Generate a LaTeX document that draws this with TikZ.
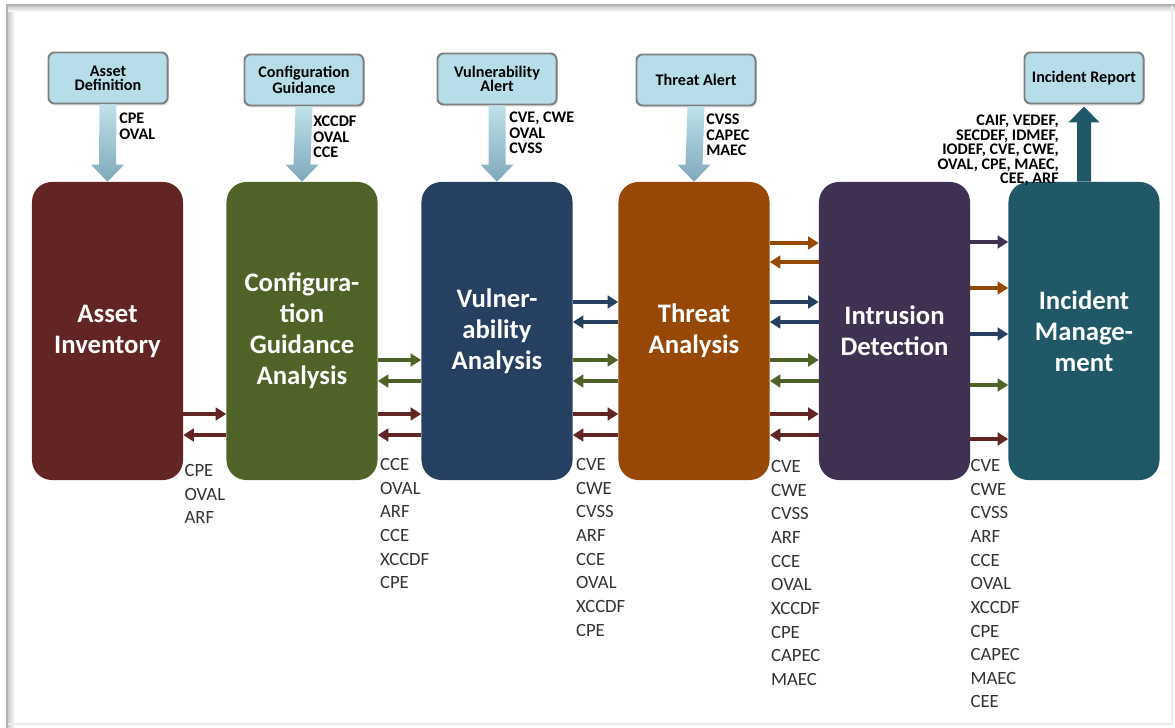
\documentclass[tikz,border=0pt]{standalone}
\usepackage{fontspec}
\setmainfont{Carlito}
\usepackage{tikz}
\usetikzlibrary{calc,arrows.meta,shadows}
\definecolor{assetred}{HTML}{632523}
\definecolor{configgreen}{HTML}{4F6228}
\definecolor{vulnblue}{HTML}{254061}
\definecolor{threatorange}{HTML}{974806}
\definecolor{intrpurple}{HTML}{3F3151}
\definecolor{incteal}{HTML}{215868}
\definecolor{boxfill}{HTML}{B7DDE8}
\definecolor{boxline}{HTML}{7F7F7F}
\definecolor{shafttop}{HTML}{BFE1EA}
\definecolor{shaftbot}{HTML}{7FA8BA}
\definecolor{listgray}{HTML}{333333}
\def\feedarrow(#1)(#2){\shade[top color=shafttop, bottom color=shaftbot] ($(#1.south)+(-8.5,0)$) -- ($(#2.north)+(-8.5,-17)$) -- ($(#2.north)+(-16.5,-17)$) -- (#2.north) -- ($(#2.north)+(16.5,-17)$) -- ($(#2.north)+(8.5,-17)$) -- ($(#1.south)+(8.5,0)$) -- cycle;}
\tikzset{
	stage/.style={rounded corners=0.5cm, minimum width=3.775cm, minimum height=7.45cm, inner sep=0pt, align=center, text=white, font=\fontsize{19}{22}\selectfont\bfseries},
	feed/.style={draw=boxline, line width=1.4pt, fill=boxfill, rounded corners=0.15cm, minimum width=2.975cm, minimum height=1.275cm, inner sep=0pt, align=center, font=\fontsize{11.5}{10}\selectfont\bfseries, drop shadow={opacity=0.2, shadow xshift=1pt, shadow yshift=-1.5pt}},
	flowlab/.style={anchor=north west, inner sep=0pt, align=left, font=\fontsize{11.5}{11.2}\selectfont\bfseries},
	speclist/.style={anchor=north west, inner sep=0pt, align=left, text=listgray, font=\fontsize{13.3}{16.8}\selectfont},
	link/.style={line width=2.5pt, -{Triangle[length=7.5pt,width=9pt]}}
}
\begin{document}
\begin{tikzpicture}[x=0.025cm, y=-0.025cm]
			%%%%% START %%%%%
			\useasboundingbox (0,0) rectangle (1175,728);
			
			% frame
			\shade[left color=gray!40, right color=white] (8,6) rectangle (15,728);
			\shade[top color=gray!40, bottom color=white] (8,6) rectangle (1175,12);
			\draw[gray!15, line width=1pt] (1172,6) -- (1172,724) -- (8,724);
			\draw[gray!60, line width=2pt] (7,728) -- (7,5) -- (1175,5);
			
			% stages
			\node[stage, fill=assetred] (ai) at (107.5,331) {Asset\\Inventory};
			\node[stage, fill=configgreen] (cg) at (302,331) {Configura-\\tion\\Guidance\\Analysis};
			\node[stage, fill=vulnblue] (va) at (497,331) {Vulner-\\ability\\Analysis};
			\node[stage, fill=threatorange] (ta) at (694,331) {Threat\\Analysis};
			\node[stage, fill=intrpurple] (id) at (894.5,331) {Intrusion\\Detection};
			\node[stage, fill=incteal] (im) at (1084,331) {Incident\\Manage-\\ment};
			
			% inputs and output
			\node[feed] (ad) at (108,78) {Asset\\Definition};
			\node[feed] (gd) at (304,80) {Configuration\\Guidance};
			\node[feed] (vl) at (497,79) {Vulnerability\\Alert};
			\node[feed] (tl) at (696,80) {Threat Alert};
			\node[feed] (ir) at (1084,78) {Incident Report};
			
			\feedarrow(ad)(ai)
			\feedarrow(gd)(cg)
			\feedarrow(vl)(va)
			\feedarrow(tl)(ta)
			\fill[incteal] ($(im.north)+(-7,0)$) -- ($(ir.south)+(-7,18)$) -- ($(ir.south)+(-15.5,18)$) -- ($(ir.south)+(0,2)$) -- ($(ir.south)+(15.5,18)$) -- ($(ir.south)+(7,18)$) -- ($(im.north)+(7,0)$) -- cycle;
			
			\node[flowlab] (adl) at ($(ad.south)+(11,8)$) {CPE\\OVAL};
			\node[flowlab] (gdl) at ($(gd.south)+(9,9)$) {XCCDF\\OVAL\\CCE};
			\node[flowlab] (vll) at ($(vl.south)+(12,6)$) {CVE, CWE\\OVAL\\CVSS};
			\node[flowlab] (tll) at ($(tl.south)+(10,7)$) {CVSS\\CAPEC\\MAEC};
			\node[flowlab, anchor=north east, align=right, font=\fontsize{11.5}{10.3}\selectfont\bfseries] (irl) at ($(im.north)+(-25,-67)$) {CAIF, VEDEF,\\SECDEF, IDMEF,\\IODEF, CVE, CWE,\\OVAL, CPE, MAEC,\\CEE, ARF};
			
			% levels of the exchange arrows
			\coordinate (lo1) at (0,243);
			\coordinate (lo2) at (0,262);
			\coordinate (lb1) at (0,302);
			\coordinate (lb2) at (0,322);
			\coordinate (lg1) at (0,360);
			\coordinate (lg2) at (0,381);
			\coordinate (lr1) at (0,414);
			\coordinate (lr2) at (0,435);
			
			\draw[link, assetred] (ai.east |- lr1) -- (cg.west |- lr1);
			\draw[link, assetred] (cg.west |- lr2) -- (ai.east |- lr2);
			
			\draw[link, configgreen] (cg.east |- lg1) -- (va.west |- lg1);
			\draw[link, configgreen] (va.west |- lg2) -- (cg.east |- lg2);
			\draw[link, assetred] (cg.east |- lr1) -- (va.west |- lr1);
			\draw[link, assetred] (va.west |- lr2) -- (cg.east |- lr2);
			
			\draw[link, vulnblue] (va.east |- lb1) -- (ta.west |- lb1);
			\draw[link, vulnblue] (ta.west |- lb2) -- (va.east |- lb2);
			\draw[link, configgreen] (va.east |- lg1) -- (ta.west |- lg1);
			\draw[link, configgreen] (ta.west |- lg2) -- (va.east |- lg2);
			\draw[link, assetred] (va.east |- lr1) -- (ta.west |- lr1);
			\draw[link, assetred] (ta.west |- lr2) -- (va.east |- lr2);
			
			\draw[link, threatorange] (ta.east |- lo1) -- (id.west |- lo1);
			\draw[link, threatorange] (id.west |- lo2) -- (ta.east |- lo2);
			\draw[link, vulnblue] (ta.east |- lb1) -- (id.west |- lb1);
			\draw[link, vulnblue] (id.west |- lb2) -- (ta.east |- lb2);
			\draw[link, configgreen] (ta.east |- lg1) -- (id.west |- lg1);
			\draw[link, configgreen] (id.west |- lg2) -- (ta.east |- lg2);
			\draw[link, assetred] (ta.east |- lr1) -- (id.west |- lr1);
			\draw[link, assetred] (id.west |- lr2) -- (ta.east |- lr2);
			
			\coordinate (lm1) at (0,242);
			\coordinate (lm2) at (0,288);
			\coordinate (lm3) at (0,334);
			\coordinate (lm4) at (0,385);
			\coordinate (lm5) at (0,439);
			\draw[link, intrpurple] (id.east |- lm1) -- (im.west |- lm1);
			\draw[link, threatorange] (id.east |- lm2) -- (im.west |- lm2);
			\draw[link, vulnblue] (id.east |- lm3) -- (im.west |- lm3);
			\draw[link, configgreen] (id.east |- lm4) -- (im.west |- lm4);
			\draw[link, assetred] (id.east |- lm5) -- (im.west |- lm5);
			
			% standards passed on
			\node[speclist] (ail) at ($(ai.south east)+(1,-16)$) {CPE\\OVAL\\ARF};
			\node[speclist] (cgl) at ($(cg.south east)+(2,-22)$) {CCE\\OVAL\\ARF\\CCE\\XCCDF\\CPE};
			\node[speclist] (val) at ($(va.south east)+(3,-22)$) {CVE\\CWE\\CVSS\\ARF\\CCE\\OVAL\\XCCDF\\CPE};
			\node[speclist] (tal) at ($(ta.south east)+(1,-20)$) {CVE\\CWE\\CVSS\\ARF\\CCE\\OVAL\\XCCDF\\CPE\\CAPEC\\MAEC};
			\node[speclist] (idl) at ($(id.south east)+(0,-21)$) {CVE\\CWE\\CVSS\\ARF\\CCE\\OVAL\\XCCDF\\CPE\\CAPEC\\MAEC\\CEE};
			
			%%%%% END %%%%%
		\end{tikzpicture}
\end{document}
